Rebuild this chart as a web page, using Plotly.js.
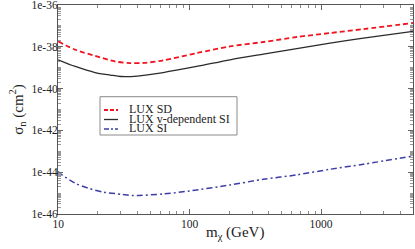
<!DOCTYPE html>
<html>
<head>
<meta charset="utf-8">
<script src="https://cdn.plot.ly/plotly-3.0.1.min.js"></script>
<style>html,body{margin:0;padding:0;background:#fff;}#chart{width:415px;height:249px;}</style>
</head>
<body>
<div id="chart"></div>
<script>
// ---- data ----
const seriesNames = ["LUX SD", "LUX v-dependent SI", "LUX SI"];

const massSD = [10, 13.5, 19.1, 27, 35, 45, 63, 113, 203, 364, 653, 1170, 2100, 5000];
const sigmaSD = [1.82e-38, 7.24e-39, 3.72e-39, 2.00e-39, 1.66e-39, 1.70e-39, 2.24e-39, 5.0e-39, 1.05e-38, 1.70e-38, 2.95e-38, 4.57e-38, 7.08e-38, 1.38e-37];

const massVSI = [10, 13.5, 19.1, 25, 30, 40, 63, 113, 203, 364, 653, 1170, 2100, 5000];
const sigmaVSI = [2.40e-39, 1.15e-39, 5.89e-40, 4.47e-40, 3.80e-40, 3.98e-40, 5.89e-40, 1.15e-39, 2.40e-39, 4.47e-39, 8.13e-39, 1.51e-38, 2.63e-38, 5.5e-38];

const massSI = [10, 10.7, 13.5, 17, 22.3, 30.5, 37, 63, 100, 203, 364, 653, 1170, 2100, 5000];
const sigmaSI = [1.07e-44, 7.41e-45, 2.95e-45, 1.70e-45, 1.10e-45, 8.71e-46, 7.59e-46, 9.12e-46, 1.26e-45, 2.45e-45, 4.57e-45, 7.41e-45, 1.38e-44, 2.40e-44, 5.9e-44];

const yTickVals = [1e-46, 1e-44, 1e-42, 1e-40, 1e-38, 1e-36];
const yTickText = ["1e-46", "1e-44", "1e-42", "1e-40", "1e-38", "1e-36"];
const xTickVals = [10, 100, 1000];
const xTickText = ["10", "100", "1000"];
const xTitle = "m<sub>χ</sub> (GeV)";
const yTitle = "σ<sub>n</sub> (cm<sup>2</sup>)";

// ---- styles ----
const colors = ["#f0141e", "#2a2a2a", "#3d3da8"];
const dashes = ["5px,3px", "solid", "6px,3px,2px,3px"];
const legendDashes = ["4px,2px", "solid", "5px,2px,2px,2px"];
const widths = [1.8, 1.3, 1.5];
const FONT = "Liberation Serif, Times New Roman, serif";

const xs = [massSD, massVSI, massSI];
const ys = [sigmaSD, sigmaVSI, sigmaSI];

const traces = seriesNames.map((n, i) => ({
  type: "scatter", mode: "lines", name: n,
  x: xs[i], y: ys[i],
  line: {color: colors[i], dash: dashes[i], width: widths[i], shape: "spline", smoothing: 0.8},
  showlegend: false, hoverinfo: "skip"
}));

// minor tick positions (log sub-decades)
const yMinor = [];
for (let d = -46; d < -36; d++) for (let k = 1; k <= 9; k++) {
  const v = k * Math.pow(10, d);
  if (!(k === 1 && d % 2 === 0)) yMinor.push(v);
}
const xMinor = [];
for (let d = 1; d <= 3; d++) for (let k = 2; k <= 9; k++) {
  const v = k * Math.pow(10, d);
  if (v <= 5000) xMinor.push(v);
}

// manual compact legend, like the original
const X0 = 58, X1 = 413, Y0 = 5, Y1 = 214;
const px = v => (v - X0) / (X1 - X0);
const py = v => (Y1 - v) / (Y1 - Y0);
const rows = [109, 118.5, 128];
const shapes = [{
  type: "rect", xref: "paper", yref: "paper",
  x0: px(100), x1: px(237), y0: py(135), y1: py(96.7),
  line: {color: "#8a8a8a", width: 1}, fillcolor: "#ffffff"
}];
const annotations = [];
seriesNames.forEach((n, i) => {
  shapes.push({
    type: "line", xref: "paper", yref: "paper",
    x0: px(104), x1: px(118), y0: py(rows[i] + 1), y1: py(rows[i] + 1),
    line: {color: colors[i], dash: legendDashes[i], width: widths[i]}
  });
  annotations.push({
    xref: "paper", yref: "paper", x: px(127), y: py(rows[i]),
    xanchor: "left", yanchor: "middle", showarrow: false,
    text: n, font: {family: FONT, size: 12, color: "#222"}
  });
});
// x-axis title placed as in the original
annotations.push({
  xref: "paper", yref: "paper", x: px(235), y: py(222),
  xanchor: "center", yanchor: "top", showarrow: false,
  text: xTitle, font: {family: FONT, size: 15, color: "#222"}
});

const layout = {
  width: 415, height: 249,
  margin: {l: X0, r: 415 - X1, t: Y0, b: 249 - Y1, pad: 0},
  paper_bgcolor: "#fff", plot_bgcolor: "#fff",
  font: {family: FONT, color: "#222", size: 11.5},
  showlegend: false,
  xaxis: {
    type: "log", range: [0.999, Math.log10(5000)],
    tickmode: "array", tickvals: xTickVals, ticktext: xTickText,
    ticks: "inside", ticklen: 5, tickcolor: "#666", tickwidth: 1,
    ticklabelstandoff: -1,
    minor: {tickmode: "array", tickvals: xMinor, ticks: "inside", ticklen: 3, tickcolor: "#888", showgrid: false},
    showline: true, linecolor: "#555", linewidth: 1, mirror: "allticks",
    showgrid: false, zeroline: false,
    tickfont: {family: FONT, size: 11.5, color: "#222"}
  },
  yaxis: {
    type: "log", range: [-46.002, -35.998],
    tickmode: "array", tickvals: yTickVals, ticktext: yTickText,
    ticks: "inside", ticklen: 5, tickcolor: "#666", tickwidth: 1,
    ticklabelstandoff: -3, ticklabeloverflow: "allow",
    minor: {tickmode: "array", tickvals: yMinor, ticks: "inside", ticklen: 3, tickcolor: "#999", showgrid: false},
    showline: true, linecolor: "#555", linewidth: 1, mirror: "allticks",
    showgrid: false, zeroline: false,
    tickfont: {family: FONT, size: 11.5, color: "#222"},
    title: {text: yTitle, font: {family: FONT, size: 15, color: "#222"}, standoff: 4}
  },
  shapes: shapes,
  annotations: annotations
};

Plotly.newPlot("chart", traces, layout, {staticPlot: true, displayModeBar: false});
</script>
</body>
</html>
